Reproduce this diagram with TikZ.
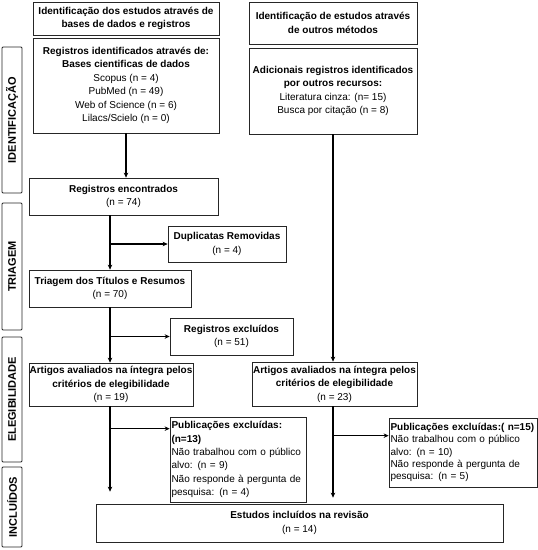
\documentclass[tikz,border=0pt]{standalone}
\usepackage{fontspec}
\setmainfont{Liberation Sans}
\usetikzlibrary{arrows.meta}
\begin{document}
\begin{tikzpicture}[x=1pt,y=-1pt,
  box/.style={draw=black!85, line width=0.7pt, align=center, inner sep=1pt, font=\fontsize{10}{13.5}\selectfont},
  lbox/.style={draw=black!85, line width=0.7pt, align=left, inner sep=1.5pt, font=\fontsize{10}{13.4}\selectfont},
  side/.style={draw=black!85, line width=0.9pt, rounded corners=1pt, inner sep=0pt, rotate=90, font=\fontsize{11}{12}\selectfont\bfseries},
  arr/.style={line width=1.1pt, -{Stealth[length=5pt,width=4.5pt]}}]
\useasboundingbox (0,0) rectangle (538,550);

% side labels
\node[side, minimum width=146, minimum height=20] (s1) at (12,120) {IDENTIFICAÇÃO};
\node[side, minimum width=127, minimum height=20] (s2) at (12,266.5) {TRIAGEM};
\node[side, minimum width=125, minimum height=20] (s3) at (12,399.5) {ELEGIBILIDADE};
\node[side, minimum width=80, minimum height=20] (s4) at (12,507) {INCLUÍDOS};

% left column
\node[box, minimum width=186, minimum height=33] (A) at (126,18.5)
  {\textbf{Identificação dos estudos através de}\\\textbf{bases de dados e registros}};
\node[box, minimum width=186, minimum height=95] (B) at (126,85.5)
  {\textbf{Registros identificados através de:}\\\textbf{Bases cientificas de dados}\\Scopus (n = 4)\\PubMed (n = 49)\\Web of Science (n = 6)\\Lilacs/Scielo (n = 0)};
\node[box, minimum width=189, minimum height=37] (E) at (123.5,196.5)
  {\textbf{Registros encontrados}\\(n = 74)};
\node[box, minimum width=118, minimum height=36] (Dup) at (227,244)
  {\textbf{Duplicatas Removidas}\\(n = 4)};
\node[box, minimum width=162, minimum height=37] (F) at (110,288.5)
  {\textbf{Triagem dos Títulos e Resumos}\\(n = 70)};
\node[box, minimum width=123, minimum height=37] (Rex) at (231.5,336.5)
  {\textbf{Registros excluídos}\\(n = 51)};
\node[box, minimum width=164, minimum height=43, inner sep=0pt] (G) at (111,384.5)
  {\textbf{Artigos avaliados na íntegra pelos}\\\textbf{critérios de elegibilidade}\\(n = 19)};
\node[lbox, text width=133, minimum height=85] (PL) at (238,459.5)
  {\textbf{Publicações excluídas:}\\\textbf{(n=13)}\\Não trabalhou com o público\\alvo: (n = 9)\\Não responde à pergunta de\\pesquisa: (n = 4)};

% right column
\node[box, minimum width=168, minimum height=42] (C) at (333,23)
  {\textbf{Identificação de estudos através}\\\textbf{de outros métodos}};
\node[box, minimum width=168, minimum height=86] (D) at (333,91)
  {\textbf{Adicionais registros identificados}\\\textbf{por outros recursos:}\\Literatura cinza: (n= 15)\\Busca por citação (n = 8)};
\node[box, minimum width=165, minimum height=44, inner sep=0pt] (H) at (334.5,384)
  {\textbf{Artigos avaliados na íntegra pelos}\\\textbf{critérios de elegibilidade}\\(n = 23)};
\node[lbox, text width=145, minimum height=69, font=\fontsize{10}{12.2}\selectfont] (PR) at (463,452.5)
  {\textbf{Publicações excluídas:( n=15)}\\Não trabalhou com o público\\alvo: (n = 10)\\Não responde à pergunta de\\pesquisa: (n = 5)};

% bottom
\node[box, minimum width=407, minimum height=38] (Est) at (299.5,523)
  {\textbf{Estudos incluídos na revisão}\\(n = 14)};

% connectors
\draw[arr] (B.south) -- (B.south |- E.north);
\draw[arr] (E.south -| F.north) -- (F.north);
\draw[arr] (F.north |- Dup.west) -- (Dup.west);
\draw[arr] (F.south) -- (F.south |- G.north);
\draw[arr] (F.south |- Rex.west) -- (Rex.west);
\draw[arr] (G.south -| F.south) -- ([yshift=12pt]F.south |- Est.north);
\draw[arr] ([yshift=-12pt]F.south |- PL.north) -- ([yshift=-12pt]PL.north west);
\draw[arr] (D.south) -- (D.south |- H.north);
\draw[arr] (H.south -| D.south) -- ([yshift=6pt]D.south |- Est.north);
\draw[arr] ([yshift=-18pt]D.south |- PR.north) -- ([yshift=-18pt]PR.north west);
\end{tikzpicture}
\end{document}
